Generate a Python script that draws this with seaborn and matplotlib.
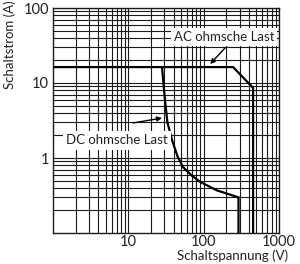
import matplotlib
matplotlib.use("Agg")
import matplotlib.pyplot as plt
import seaborn as sns
import pandas as pd
import numpy as np
from matplotlib.ticker import LogLocator, NullFormatter, FixedLocator, FixedFormatter

# Data
ac_voltage = [1, 246, 453, 453]
ac_current = [16.3, 16.3, 8.6, 0.1]

dc_voltage = [28, 29.5, 30.7, 33, 38, 45, 53, 70, 90, 150, 286, 290, 290]
dc_current = [16.3, 9.0, 5.9, 3.0, 1.74, 1.05, 0.76, 0.58, 0.48, 0.37, 0.30, 0.30, 0.1]

x_ticks = [10, 100, 1000]
x_ticklabels = ["10", "100", "1000"]
y_ticks = [1, 10, 100]
y_ticklabels = ["1", "10", "100"]

sns.set_style("white")
plt.rcParams['font.family'] = ['Lato', 'DejaVu Sans']

fig = plt.figure(figsize=(3.0, 2.64), dpi=100)
ax = fig.add_axes([53/300, 1-233/264, (279-53)/300, (233-8)/264])

ac = pd.DataFrame({"V": ac_voltage, "A": ac_current})
dc = pd.DataFrame({"V": dc_voltage, "A": dc_current})
sns.lineplot(data=ac, x="V", y="A", sort=False, estimator=None, color="black", lw=1.6, ax=ax, zorder=5)
sns.lineplot(data=dc, x="V", y="A", sort=False, estimator=None, color="black", lw=1.6, ax=ax, zorder=5)

ax.set_xscale("log")
ax.set_yscale("log")
ax.set_xlim(1, 1000)
ax.set_ylim(0.1, 100)

ax.xaxis.set_major_locator(FixedLocator(x_ticks))
ax.xaxis.set_major_formatter(FixedFormatter(x_ticklabels))
ax.yaxis.set_major_locator(FixedLocator(y_ticks))
ax.yaxis.set_major_formatter(FixedFormatter(y_ticklabels))
ax.xaxis.set_minor_locator(LogLocator(base=10, subs=np.arange(2, 10)))
ax.yaxis.set_minor_locator(LogLocator(base=10, subs=np.arange(2, 10)))
ax.xaxis.set_minor_formatter(NullFormatter())
ax.yaxis.set_minor_formatter(NullFormatter())
ax.tick_params(which="both", length=0, labelsize=10.5, colors="#222222")
ax.tick_params(axis="x", pad=1.5)
ax.tick_params(axis="y", pad=3)

ax.grid(which="both", color="#1a1a1a", lw=0.8)
for s in ax.spines.values():
    s.set_color("#1a1a1a")
    s.set_linewidth(1.0)

ax.set_xlabel("Schaltspannung (V)", fontsize=9.5, color="#222222")
ax.xaxis.set_label_coords((233-53)/226, -(256-233)/225)
ax.xaxis.label.set_va("center")
ax.set_ylabel("Schaltstrom (A)", fontsize=9.5, color="#222222")
ax.yaxis.set_label_coords(-(53-10)/226, (233-45)/225)
ax.yaxis.label.set_va("center")

bbox = dict(boxstyle="square,pad=0.2", fc="white", ec="none")
ax.text(187, 41, "AC ohmsche Last", fontsize=9.5, ha="center", va="center",
        color="#222222", bbox=bbox, zorder=6)
ax.text(1.5, 1.72, "DC ohmsche Last", fontsize=9.5, ha="left", va="center",
        color="#222222", bbox=dict(boxstyle="square,pad=0.25", fc="white", ec="none"), zorder=6)

arrow = dict(arrowstyle="-|>", color="black", lw=1.0, mutation_scale=7, shrinkA=0, shrinkB=0)
ax.annotate("", xy=(122, 17.9), xytext=(192, 29.3), arrowprops=arrow, zorder=7)
ax.annotate("", xy=(28, 3.41), xytext=(11.5, 2.93), arrowprops=arrow, zorder=7)

fig.savefig("out.png", dpi=100)
